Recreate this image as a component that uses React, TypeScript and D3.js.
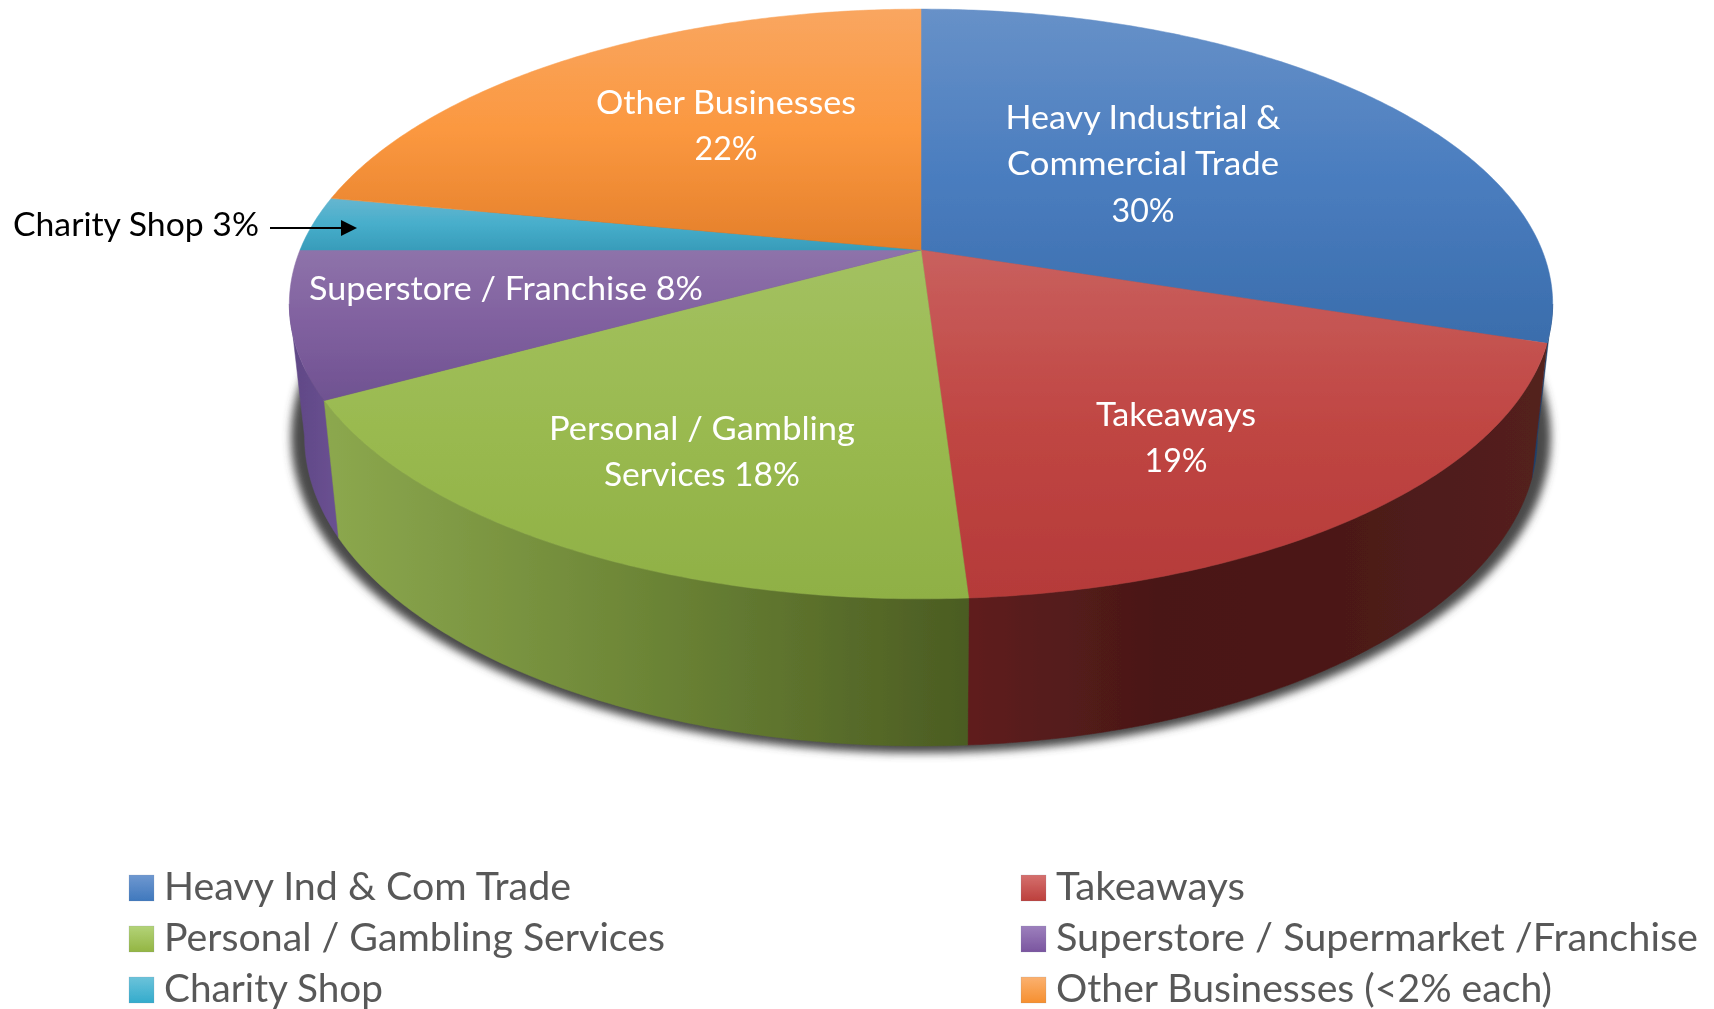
import React from "react";
import * as d3 from "d3";

const categories = ["Heavy Ind & Com Trade", "Takeaways", "Personal / Gambling Services", "Superstore / Supermarket /Franchise", "Charity Shop", "Other Businesses (<2% each)"];
const shares = [30, 19, 18, 8, 3, 22];
const topColors = [
  ["#6791c8", "#4a7dbf", "#3a6dac"],
  ["#c9605e", "#c04643", "#b53a39"],
  ["#a3c161", "#9aba50", "#8fb045"],
  ["#8e73aa", "#80609f", "#6f5291"],
  ["#66b6d0", "#47aecb", "#389cba"],
  ["#f9a660", "#fb9840", "#e47f2a"],
];
const wallColors = [
  ["#1d3f6b", "#1d3f6b"],
  ["#5f1e1e", "#4a1817", "#4c1918", "#53201e"],
  ["#8ca84e", "#6c8536", "#4b5c22"],
  ["#5f4785", "#6a5192"],
];
const legendSwatches = [
  ["#6f98d0", "#3f78bd"],
  ["#d5706e", "#bc3f3c"],
  ["#b3d378", "#93b543"],
  ["#9d80bd", "#7a559f"],
  ["#6cc3da", "#33abcc"],
  ["#fbb170", "#f68f2f"],
];
const sliceLabels = [
  { lines: ["Heavy Industrial &", "Commercial Trade", "30%"], widths: [275, 272, 63], cx: 1143, baselines: [129, 175, 222] },
  { lines: ["Takeaways", "19%"], widths: [160, 63], cx: 1176, baselines: [426, 472] },
  { lines: ["Personal / Gambling", "Services 18%"], widths: [306, 196], cx: 702, baselines: [440, 486] },
  { lines: ["Superstore / Franchise 8%"], widths: [394], cx: 506, baselines: [300] },
  { lines: ["Other Businesses", "22%"], widths: [260, 63], cx: 726, baselines: [114, 160] },
];
const legendWidths = [407, 189, 501, 642, 219, 496];

const W = 1714;
const H = 1009;
const K = 0.183;
const topFace = { cx: 921, cy: 250, a: 621, b: 285 };
const baseFace = { cx: 921, cy: 380, a: 606, b: 299 };

type Face = typeof topFace;
const project = (f: Face, ang: number): [number, number] => {
  const u = Math.sin(ang);
  const v = -Math.cos(ang);
  const d = 1 - K * v;
  return [f.cx + (f.a * u) / d, f.cy + (f.b * v) / d];
};
const arcPts = (f: Face, a0: number, a1: number) => {
  const n = Math.max(2, Math.ceil(Math.abs(a1 - a0) / 0.01));
  return d3.range(n + 1).map((i) => project(f, a0 + ((a1 - a0) * i) / n));
};
const line = d3.line();
const arcs = d3.pie<number>().sort(null).startAngle(0).endAngle(2 * Math.PI)(shares);

// the wall is only seen between the two silhouette tangents of the projected disc
const visStart = Math.acos(-K);
const visEnd = 2 * Math.PI - visStart;

const topPath = (a0: number, a1: number) =>
  line([[topFace.cx, topFace.cy], ...arcPts(topFace, a0, a1)])! + "Z";
const wallPath = (a0: number, a1: number) => {
  const s = Math.max(a0, visStart);
  const e = Math.min(a1, visEnd);
  return line([...arcPts(topFace, s, e), ...arcPts(baseFace, e, s)])! + "Z";
};
const yRange = (a0: number, a1: number) => {
  const pts = [[topFace.cx, topFace.cy] as [number, number], ...arcPts(topFace, a0, a1)];
  return d3.extent(pts, (p) => p[1]) as [number, number];
};

const wallSpans: [number, number, number][] = [
  [0, 1532, 1552],
  [1, 968, 1532],
  [2, 325, 968],
  [3, 288, 340],
];

const FONT = "Lato, 'Open Sans', sans-serif";

export default function App() {
  const legendX = d3.scalePoint<number>().domain([0, 1]).range([129, 1021]);
  const legendY = d3.scalePoint<number>().domain([0, 1, 2]).range([875, 977]);
  return (
    <svg width={W} height={H} viewBox={`0 0 ${W} ${H}`} style={{ position: "absolute", left: 0, top: 0, display: "block", background: "#fff" }}>
      <defs>
        <filter id="shadow" x="-5%" y="-5%" width="110%" height="115%">
          <feGaussianBlur stdDeviation="4.5" />
        </filter>
        <filter id="soft" x="-2%" y="-2%" width="104%" height="104%">
          <feGaussianBlur stdDeviation="0.35" />
        </filter>
        {arcs.map((d, i) => {
          const [y0, y1] = yRange(d.startAngle, d.endAngle);
          return (
            <linearGradient key={i} id={`top${i}`} gradientUnits="userSpaceOnUse" x1="0" x2="0" y1={y0} y2={y1}>
              {topColors[i].map((c, j) => (
                <stop key={j} offset={j / (topColors[i].length - 1)} stopColor={c} />
              ))}
            </linearGradient>
          );
        })}
        {wallSpans.map(([i, x0, x1]) => (
          <linearGradient key={i} id={`wall${i}`} gradientUnits="userSpaceOnUse" x1={x0} x2={x1} y1="0" y2="0">
            {wallColors[i].map((c, j) => (
              <stop key={j} offset={j / (wallColors[i].length - 1)} stopColor={c} />
            ))}
          </linearGradient>
        ))}
        {legendSwatches.map((c, i) => (
          <linearGradient key={i} id={`sw${i}`} x1="0" x2="0" y1="0" y2="1">
            <stop offset="0" stopColor={c[0]} />
            <stop offset="1" stopColor={c[1]} />
          </linearGradient>
        ))}
      </defs>

      <g filter="url(#soft)">
        <ellipse cx={921} cy={437} rx={630} ry={316} fill="#484848" filter="url(#shadow)" />

        {[0, 3, 1, 2].map((i) => (
          <path key={i} d={wallPath(arcs[i].startAngle, arcs[i].endAngle)} fill={`url(#wall${i})`} stroke={`url(#wall${i})`} strokeWidth={0.5} />
        ))}
        {arcs.map((d, i) => (
          <path key={i} d={topPath(d.startAngle, d.endAngle)} fill={`url(#top${i})`} stroke={`url(#top${i})`} strokeWidth={0.5} />
        ))}

        {sliceLabels.map((l, i) => (
          <g key={i} fontFamily={FONT} fontSize={33} fill="#fff" textAnchor="middle">
            {l.lines.map((t, j) => (
              <text key={j} x={l.cx} y={l.baselines[j]} textLength={l.widths[j]} lengthAdjust="spacingAndGlyphs">
                {t}
              </text>
            ))}
          </g>
        ))}

        <text x={13} y={236} fontFamily={FONT} fontSize={33} fill="#000" textLength={246} lengthAdjust="spacingAndGlyphs">
          Charity Shop 3%
        </text>
        <line x1={270} y1={228} x2={343} y2={228} stroke="#000" strokeWidth={2} />
        <path d={line([[341, 220], [357, 228], [341, 236]])! + "Z"} fill="#000" />

        {categories.map((c, i) => {
          const col = i % 2;
          const row = Math.floor(i / 2);
          const x = legendX(col)!;
          const y = legendY(row)!;
          return (
            <g key={c}>
              <rect x={x} y={y} width={25} height={26} fill={`url(#sw${i})`} stroke="#7f8fa0" strokeOpacity={0.35} strokeWidth={0.5} />
              <text x={x + 35} y={y + 25} fontFamily={FONT} fontSize={39} fill="#595959" textLength={legendWidths[i]} lengthAdjust="spacingAndGlyphs">
                {c}
              </text>
            </g>
          );
        })}
      </g>
    </svg>
  );
}
